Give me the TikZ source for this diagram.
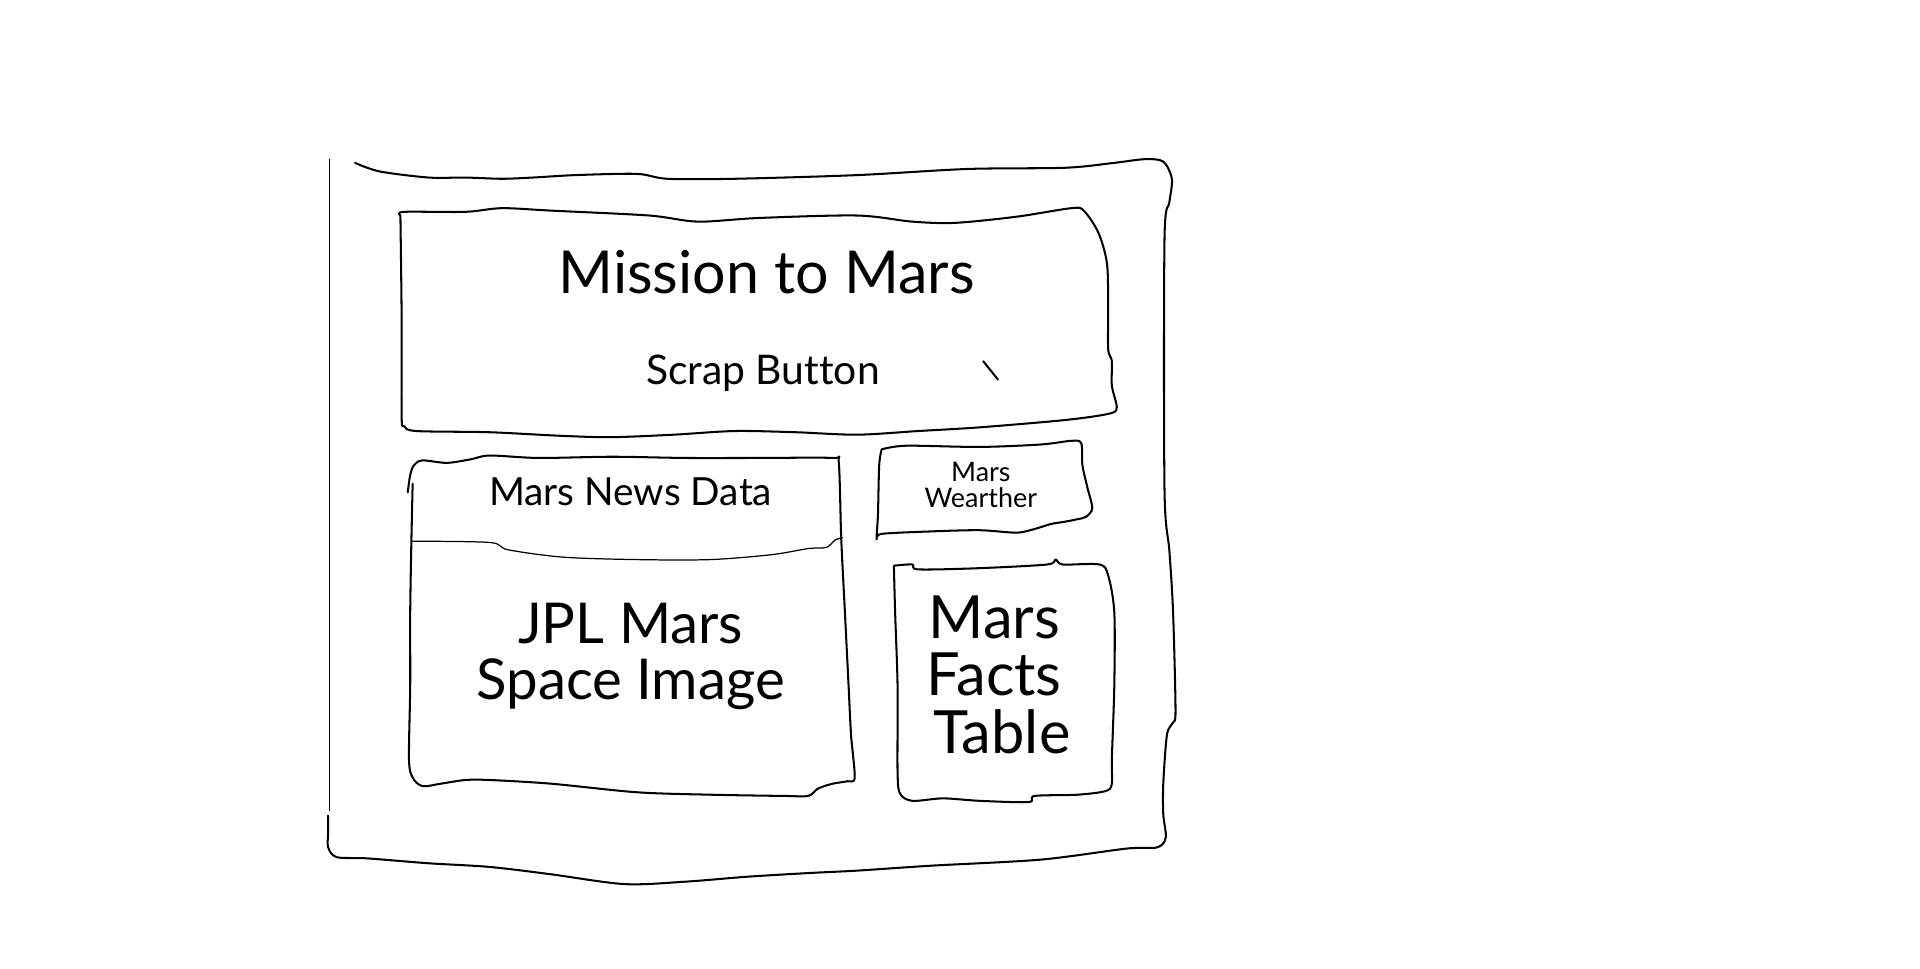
\documentclass[tikz,border=0pt]{standalone}
\usepackage{fontspec}
\setmainfont{Lato}[Ligatures=NoCommon]
\begin{document}
\begin{tikzpicture}[x=0.6pt,y=-0.6pt,
  sketch/.style={draw=black,line width=1pt,line join=round,line cap=round},
  thin sketch/.style={draw=black,line width=0.6pt,line cap=round},
  lbl/.style={inner sep=0pt,align=center,text=black}]
\path[use as bounding box,fill=white] (0,0) rectangle (1568,791);

% left vertical line of the outer frame
\draw[thin sketch] (269,130) -- (269,662);

% outer frame
\draw[sketch] plot[smooth,tension=0.5] coordinates {
 (290,133) (310,140) (350,145) (380,145) (410,146) (435,145) (470,143) (520,142)
 (545,146) (600,146) (700,143) (790,138) (870,137) (910,133) (935,130) (950,132)
 (957,146) (955,165) (951,195) (951,400) (955,450) (958,500) (960,580) (958,590)
 (953,600) (950,640) (950,665) (952,684) (945,692) (920,693) (850,702) (760,707)
 (700,711) (660,713) (610,716) (560,720) (510,722) (450,714) (400,708) (350,705)
 (300,701) (275,700) (268,692) (268,680) (268,666)};

% title box
\draw[sketch] plot[smooth,tension=0.5] coordinates {
 (327,176) (330,173) (380,173) (410,170) (450,172) (530,176) (570,181) (620,178)
 (700,176) (745,181) (780,182) (830,177) (875,170) (885,172) (897,190) (904,215)
 (905,250) (905,285) (908,295) (908,315) (912,333) (905,338) (870,343) (800,349)
 (750,352) (700,355) (650,353) (600,352) (550,355) (500,357) (460,356) (400,353)
 (340,352) (330,348) (328,340) (328,260) (327,176)};
\node[lbl,font=\fontsize{29}{31}\selectfont] (title) at (626,222) {Mission to Mars};
\node[lbl,font=\fontsize{20}{22}\selectfont] (scrap) at (623,305) {Scrap Button};
\draw[sketch] (803,295) -- (815,310);

% news / image box
\draw[sketch] plot[smooth,tension=0.5] coordinates {
 (333,402) (335,388) (338,380) (345,376) (365,378) (385,375) (400,372) (440,374)
 (500,373) (560,374) (620,374) (680,374) (685,378) (687,440) (690,500) (693,560)
 (695,600) (698,635) (692,638) (680,640) (668,644) (660,650) (640,650) (580,649)
 (520,647) (450,640) (400,637) (380,637) (360,640) (345,642) (337,635) (334,620)
 (335,560) (335,500) (336,440) (337,395)};
\draw[thin sketch] plot[smooth,tension=0.5] coordinates {
 (336,442) (400,443) (415,449) (460,455) (520,457) (580,457) (630,453) (660,448)
 (675,447) (682,441) (688,439)};
\node[lbl,font=\fontsize{19}{21}\selectfont] (news) at (515,402) {Mars News Data};
\node[lbl,font=\fontsize{27.6}{27.6}\selectfont] (jpl) at (515,536) {JPL Mars\\Space Image};

% weather box
\draw[sketch] plot[smooth,tension=0.5] coordinates {
 (720,367) (740,364) (800,365) (850,363) (875,360) (883,362) (884,380) (888,398)
 (892,415) (887,422) (880,424) (870,426) (858,428) (845,432) (830,435) (800,433)
 (760,434) (720,436) (716,440) (717,420) (718,380) (720,367)};
\node[lbl,font=\fontsize{13.2}{12.6}\selectfont] (weather) at (801,396) {Mars\\Wearther};

% facts box
\draw[sketch] plot[smooth,tension=0.5] coordinates {
 (730,462) (745,461) (750,465) (800,464) (855,461) (862,457) (868,461) (898,461)
 (905,470) (910,500) (910,560) (908,620) (908,640) (903,646) (880,649) (845,650)
 (840,655) (800,654) (770,652) (745,654) (735,648) (733,630) (733,560) (731,500)
 (730,462)};
\node[lbl,font=\fontsize{29.2}{28.2}\selectfont] (facts) at (812,551) {Mars\\Facts\\\ Table};
\end{tikzpicture}
\end{document}
